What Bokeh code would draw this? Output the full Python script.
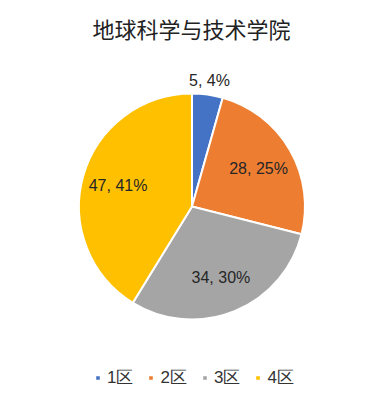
import math
from bokeh.plotting import figure
from bokeh.models import ColumnDataSource, Range1d, Legend, LegendItem, Label
from bokeh.core.properties import value
from bokeh.embed import file_html
from bokeh.resources import INLINE

title_text = "地球科学与技术学院"
categories = ["1区", "2区", "3区", "4区"]
counts = [5, 28, 34, 47]
colors = ["#4472C4", "#ED7D31", "#A5A5A5", "#FFC000"]

W, H = 366, 392
p = figure(width=W, height=H, output_backend="svg", toolbar_location=None,
           x_range=Range1d(0, W), y_range=Range1d(0, H), min_border=0,
           outline_line_color=None)
p.axis.visible = False
p.grid.visible = False

cx, cy, R = 191.5, 186, 113
total = sum(counts)
starts, ends, mids = [], [], []
cum = 0
for c in counts:
    a0 = math.pi / 2 - cum / total * 2 * math.pi
    cum += c
    a1 = math.pi / 2 - cum / total * 2 * math.pi
    starts.append(a0)
    ends.append(a1)
    mids.append((a0 + a1) / 2)

src = ColumnDataSource(dict(start=starts, end=ends, color=colors, cat=categories))
r = p.wedge(x=cx, y=cy, radius=R, start_angle="start", end_angle="end",
            direction="clock", fill_color="color", line_color="white",
            line_width=2, source=src)

lx, ly, lt = [], [], []
for c, m in zip(counts, mids):
    frac = c / total
    rr = R + 14 if frac < 0.08 else R * 0.68
    lx.append(cx + rr * math.cos(m))
    ly.append(cy + rr * math.sin(m))
    lt.append(f"{c}, {round(frac * 100)}%")
p.text(x=lx, y=ly, text=lt, text_align="center", text_baseline="middle",
       text_font=value("Liberation Sans"), text_font_size="16px",
       text_color="#262626")

p.add_layout(Label(x=W / 2 + 8, y=H - 27, x_units="screen", y_units="screen",
                   text=title_text, text_align="center", text_baseline="middle",
                   text_font="Noto Sans CJK SC", text_font_size="22px",
                   text_color="#222222"))

legend = Legend(items=[LegendItem(label=cat, renderers=[r], index=i)
                       for i, cat in enumerate(categories)],
                orientation="horizontal", location=(94, 3),
                glyph_width=7, glyph_height=7, label_standoff=6, spacing=14,
                padding=0, margin=0, border_line_color=None,
                background_fill_alpha=0,
                label_text_font="Liberation Sans", label_text_font_size="17px",
                label_text_color="#333333", label_height=20)
p.add_layout(legend, "center")

open("out.html", "w").write(file_html(p, INLINE))
